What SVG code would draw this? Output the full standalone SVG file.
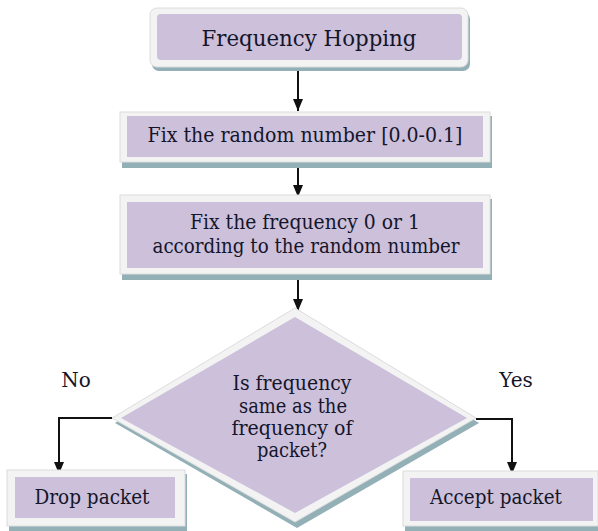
<svg xmlns="http://www.w3.org/2000/svg" width="598" height="531" viewBox="0 0 598 531">
<style>
.sh{fill:#93b0b7}
.fr{fill:#f3f3f3;stroke:#dcdcdc;stroke-width:1}
.in{fill:#ccc0da}
.t{font-family:'DejaVu Serif','Liberation Serif',serif;font-size:20px;fill:#15152a;text-anchor:middle}
.big{font-size:22px}
.c{fill:none;stroke:#111;stroke-width:2}
</style>
<defs>
<marker id="ah" viewBox="0 0 12 10" refX="12" refY="5" markerWidth="12" markerHeight="10" markerUnits="userSpaceOnUse" orient="auto">
<path d="M0,0 L12,5 L0,10 Z" fill="#111"/>
</marker>
</defs>
<rect width="598" height="531" fill="#fff"/>

<g id="connectors">
<line class="c" x1="298" y1="71" x2="298" y2="111" marker-end="url(#ah)"/>
<line class="c" x1="298" y1="168" x2="298" y2="197" marker-end="url(#ah)"/>
<line class="c" x1="298" y1="280" x2="298" y2="311" marker-end="url(#ah)"/>
<polyline class="c" points="112,418 59,418 59,474" marker-end="url(#ah)"/>
<polyline class="c" points="476,419 512,419 512,474" marker-end="url(#ah)"/>
</g>

<g id="n1">
<rect class="sh" x="152" y="12" width="318" height="59" rx="7"/>
<rect class="fr" x="150" y="8" width="318" height="59" rx="7"/>
<rect class="in" x="157" y="14" width="305" height="46" rx="4"/>
<text class="t big" x="309" y="46" textLength="215" lengthAdjust="spacingAndGlyphs">Frequency Hopping</text>
</g>

<g id="n2">
<rect class="sh" x="122" y="116" width="370" height="52"/>
<rect class="fr" x="120" y="112" width="370" height="50"/>
<rect class="in" x="127" y="116" width="356" height="41"/>
<text class="t" x="305" y="142" textLength="315" lengthAdjust="spacingAndGlyphs">Fix the random number [0.0-0.1]</text>
</g>

<g id="n3">
<rect class="sh" x="122" y="199" width="370" height="81"/>
<rect class="fr" x="120" y="195" width="370" height="79"/>
<rect class="in" x="127" y="202" width="356" height="66"/>
<text class="t" x="305" y="229" textLength="230" lengthAdjust="spacingAndGlyphs">Fix the frequency 0 or 1</text>
<text class="t" x="306" y="253" textLength="307" lengthAdjust="spacingAndGlyphs">according to the random number</text>
</g>

<g id="n4">
<polygon class="sh" points="297,313 479,423 297,528 115,423"/>
<polygon class="fr" points="295,308 476,418 295,522 112,418"/>
<polygon class="in" points="295,317 467,418 295,513 121,418"/>
<text class="t" x="292" y="390" textLength="119" lengthAdjust="spacingAndGlyphs">Is frequency</text>
<text class="t" x="293" y="413" textLength="108" lengthAdjust="spacingAndGlyphs">same as the</text>
<text class="t" x="292" y="435" textLength="121" lengthAdjust="spacingAndGlyphs">frequency of</text>
<text class="t" x="292" y="457" textLength="70" lengthAdjust="spacingAndGlyphs">packet?</text>
</g>

<g id="n5">
<rect class="sh" x="9" y="474" width="178" height="57"/>
<rect class="fr" x="7" y="470" width="178" height="56"/>
<rect class="in" x="15" y="477" width="160" height="41"/>
<text class="t" x="92" y="504" textLength="115" lengthAdjust="spacingAndGlyphs">Drop packet</text>
</g>

<g id="n6">
<rect class="sh" x="405" y="475" width="193" height="56"/>
<rect class="fr" x="403" y="471" width="195" height="55"/>
<rect class="in" x="410" y="478" width="183" height="43"/>
<text class="t" x="496" y="504" textLength="132" lengthAdjust="spacingAndGlyphs">Accept packet</text>
</g>

<g id="labels">
<text class="t" x="76" y="387">No</text>
<text class="t" x="516" y="387">Yes</text>
</g>
</svg>
